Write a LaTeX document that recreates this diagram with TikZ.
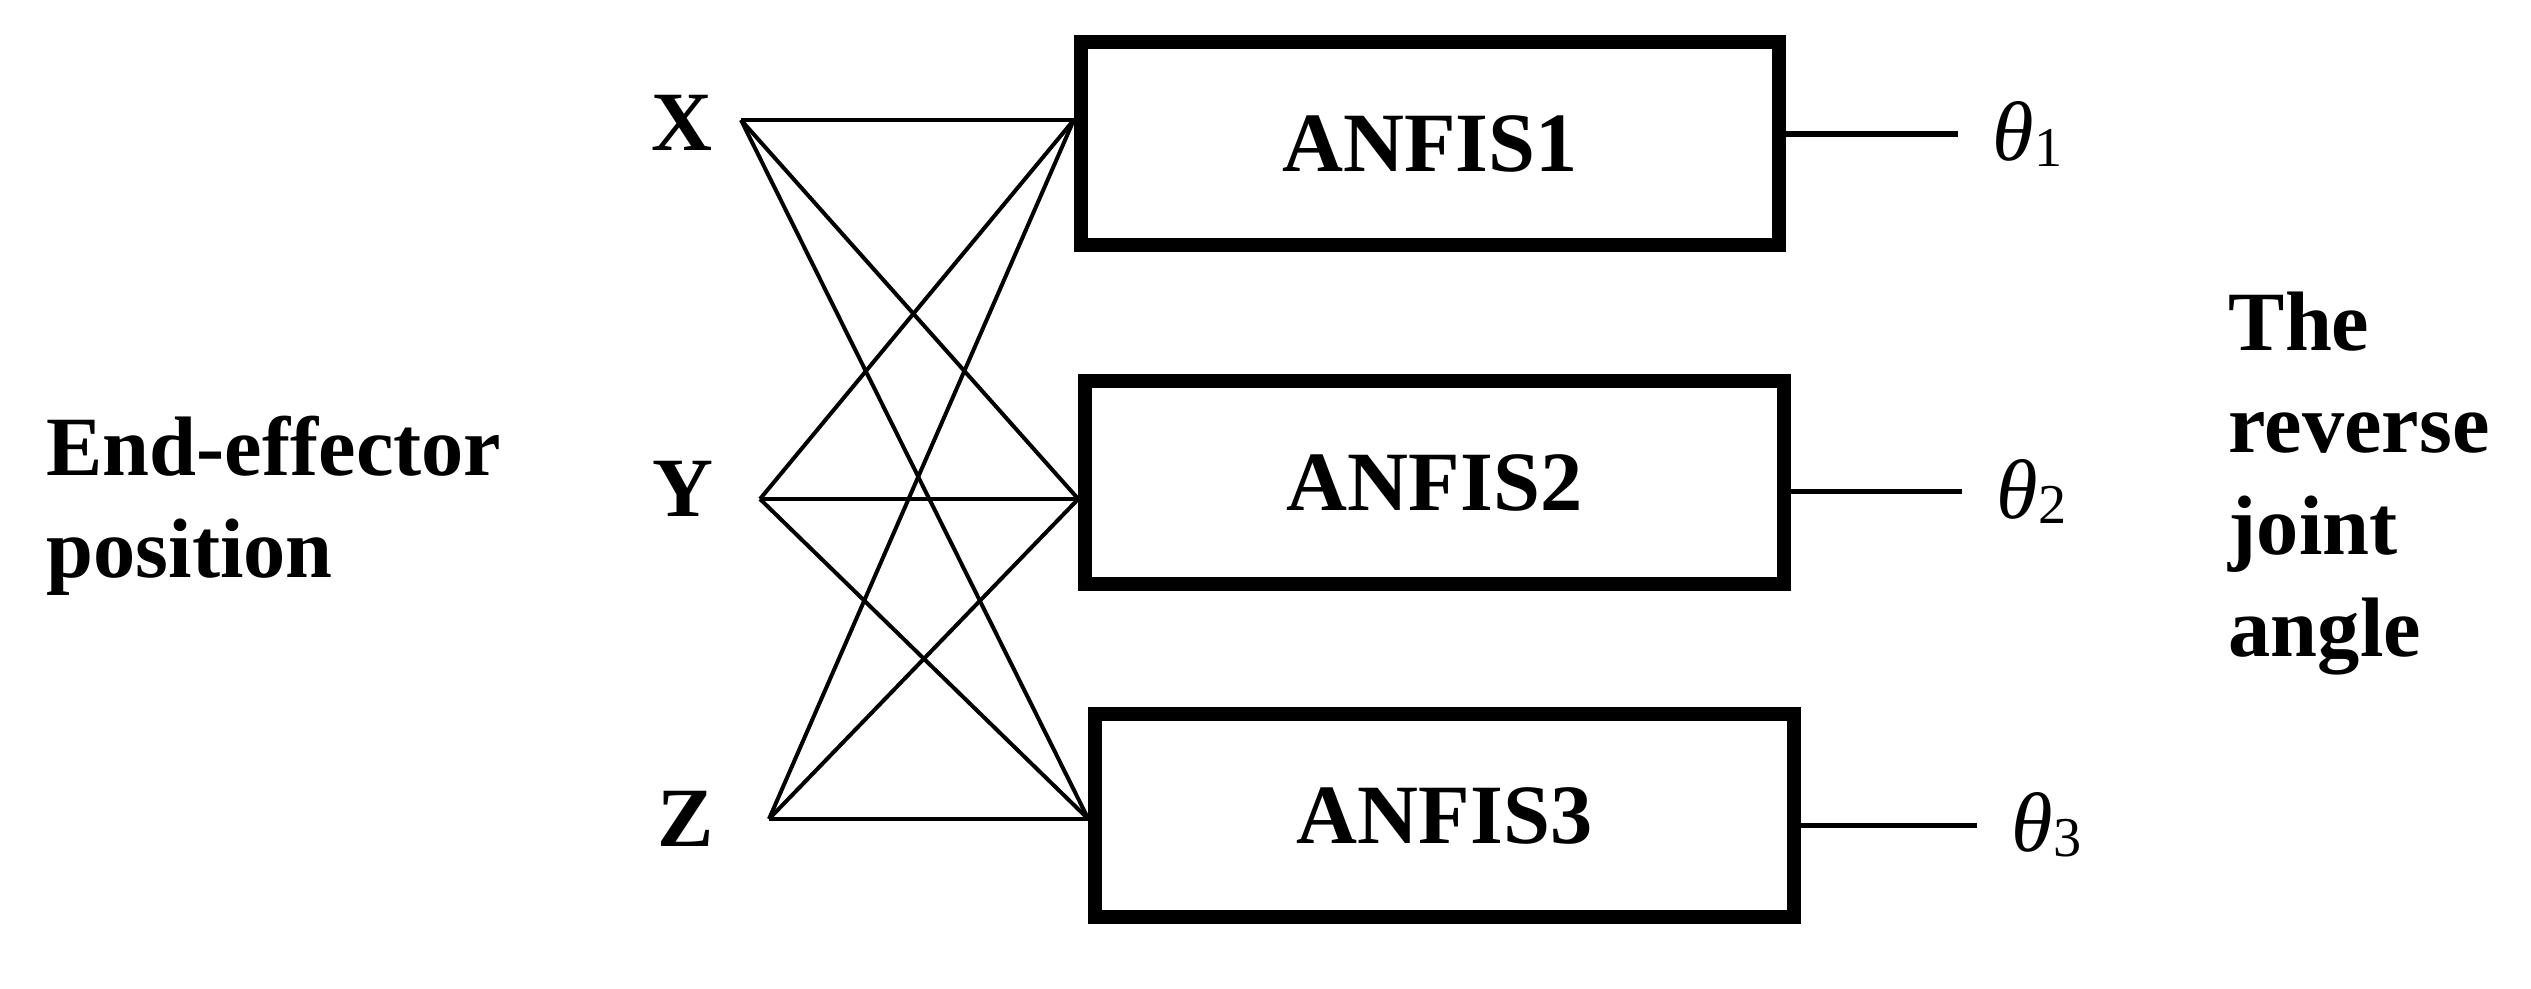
\documentclass[tikz,border=0pt]{standalone}
\usepackage{fontspec}
\setmainfont{Liberation Serif}
\begin{document}
\begin{tikzpicture}[x=0.01cm,y=-0.01cm,
  lab/.style={font=\fontsize{24}{29}\selectfont\bfseries, inner sep=0pt},
  anfis/.style={draw, line width=0.14cm, minimum width=6.98cm, minimum height=2.03cm,
    font=\fontsize{24}{29}\selectfont\bfseries, inner sep=0pt},
  wire/.style={line width=0.04cm},
  outw/.style={line width=0.05cm},
  theta/.style={font=\fontsize{24}{29}\selectfont\itshape, inner xsep=0.34cm, inner ysep=0pt, anchor=west}]
\useasboundingbox[fill=white] (0,0) rectangle (2531,988);

% input labels
\node[lab, anchor=base] (X) at (682,150) {X};
\node[lab, anchor=base] (Y) at (682.5,516) {Y};
\node[lab, anchor=base] (Z) at (685.5,846) {Z};
\node[lab, anchor=base west, align=left] (ee) at (46,577) {End-effector\\position};
\node[lab, anchor=base west, align=left] (rj) at (2228,656) {The\\reverse\\joint\\angle};

% ANFIS boxes
\node[anfis] (A1) at (1430,143.5) {ANFIS1};
\node[anfis] (A2) at (1434.5,482.5) {ANFIS2};
\node[anfis] (A3) at (1444.5,815.5) {ANFIS3};

% wire ends
\coordinate (xa) at (741,120);
\coordinate (ya) at (760,499);
\coordinate (za) at (769,819);
\coordinate (i1) at (A1.west |- xa);
\coordinate (i2) at (A2.west |- ya);
\coordinate (i3) at (A3.west |- za);

\foreach \s in {xa,ya,za}
  \foreach \t in {i1,i2,i3}
    \draw[wire] (\s) -- (\t);

% outputs
\node[theta] (t1) at (1958,134) {θ\raisebox{-1.5pt}{\fontsize{16}{16}\selectfont\upshape 1}};
\node[theta] (t2) at (1962,491.5) {θ\raisebox{-1.5pt}{\fontsize{16}{16}\selectfont\upshape 2}};
\node[theta] (t3) at (1977,825) {θ\raisebox{-1.5pt}{\fontsize{16}{16}\selectfont\upshape 3}};
\draw[outw] (A1.east |- t1.west) -- (t1.west);
\draw[outw] (A2.east |- t2.west) -- (t2.west);
\draw[outw] (A3.east |- t3.west) -- (t3.west);
\end{tikzpicture}
\end{document}
